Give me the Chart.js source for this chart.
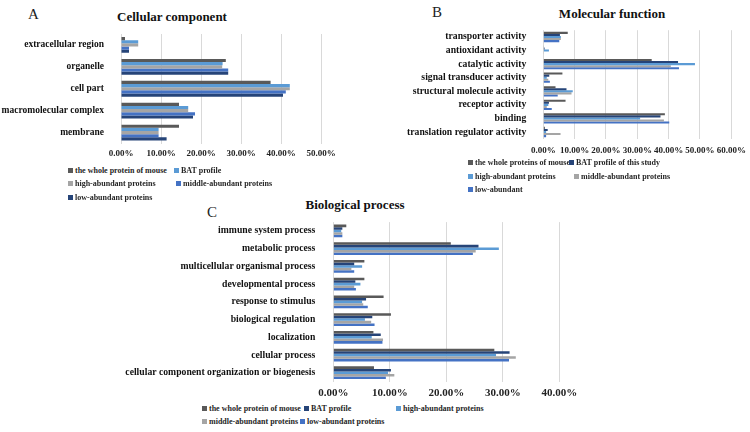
<!DOCTYPE html>
<html>
<head>
<meta charset="utf-8">
<script src="https://cdn.jsdelivr.net/npm/chart.js@4"></script>
<style>
  body { margin: 0; background: #fff; width: 750px; height: 432px; position: relative; overflow: hidden; font-family: "Liberation Serif", serif; }
  .abs { position: absolute; white-space: nowrap; line-height: 1; }
  .letter { font-size: 15px; color: #222; }
  .title { font-size: 13px; font-weight: bold; color: #111; transform: translateX(-50%); }
  .leg { font-size: 8px; font-weight: bold; color: #262626; }
  .leg i { display: inline-block; width: 5px; height: 5px; margin-right: 2px; vertical-align: 0px; }
  canvas { position: absolute; }
</style>
</head>
<body>
<div class="abs letter" style="left:28px;top:7px">A</div>
<div class="abs letter" style="left:432px;top:5px">B</div>
<div class="abs letter" style="left:207px;top:205px">C</div>
<div class="abs title" style="left:172px;top:10px">Cellular component</div>
<div class="abs title" style="left:612px;top:7px">Molecular function</div>
<div class="abs title" style="left:355px;top:198px">Biological process</div>
<canvas id="ccChart"></canvas>
<canvas id="mfChart"></canvas>
<canvas id="bpChart"></canvas>
<script>
// values in percent
const ccCategories = ['extracellular region', 'organelle', 'cell part', 'macromolecular complex', 'membrane']
const ccWhole  = [1.0, 26.2, 37.4, 14.5, 14.5]
const ccBat    = [4.3, 25.4, 42.2, 16.8, 9.4]
const ccHigh   = [4.3, 25.3, 42.2, 16.8, 9.4]
const ccMiddle = [2.0, 26.8, 41.2, 18.5, 9.4]
const ccLow    = [2.0, 26.8, 40.5, 18.0, 11.4]
const ccSeries = ['the whole protein of mouse', 'BAT profile', 'high-abundant proteins', 'middle-abundant proteins', 'low-abundant proteins']

const mfCategories = ['transporter activity', 'antioxidant activity', 'catalytic activity', 'signal transducer activity',
  'structural molecule activity', 'receptor activity', 'binding', 'translation regulator activity']
const mfWhole  = [7.8, 0.2, 34.6, 6.1, 3.9, 7.1, 38.8, 0.5]
const mfBat    = [5.3, 0.4, 43.0, 1.9, 7.4, 1.8, 37.4, 1.4]
const mfHigh   = [5.6, 1.8, 48.4, 1.1, 9.4, 1.6, 30.9, 0.9]
const mfMiddle = [5.6, 0.1, 40.7, 1.6, 9.0, 1.1, 38.5, 5.5]
const mfLow    = [5.1, 0.0, 43.3, 2.1, 4.6, 2.7, 40.2, 0.9]
const mfSeries = ['the whole proteins of mouse', 'BAT profile of this study', 'high-abundant proteins', 'middle-abundant proteins', 'low-abundant']

const bpCategories = ['immune system process', 'metabolic process', 'multicellular organismal process', 'developmental process',
  'response to stimulus', 'biological regulation', 'localization', 'cellular process', 'cellular component organization or biogenesis']
const bpWhole  = [2.3, 20.8, 5.5, 5.5, 8.9, 10.2, 7.1, 28.5, 7.2]
const bpBat    = [1.6, 25.7, 3.7, 3.9, 5.8, 6.9, 8.4, 31.2, 10.2]
const bpHigh   = [1.4, 29.3, 5.1, 4.8, 5.1, 5.6, 6.8, 28.8, 9.7]
const bpMiddle = [1.6, 25.2, 3.2, 3.7, 5.3, 6.7, 8.8, 32.3, 10.8]
const bpLow    = [1.6, 24.7, 3.7, 4.0, 6.1, 7.3, 8.7, 31.1, 9.3]
const bpSeries = ['the whole protein of mouse', 'BAT profile', 'high-abundant proteins', 'middle-abundant proteins', 'low-abundant proteins']

const darkGray = '#595959'
const lightBlue = '#5b9bd5'
const gray = '#a5a5a5'
const blue = '#4472c4'
const navy = '#264478'

const ccColors = [darkGray, lightBlue, gray, blue, navy]
const mfColors = [darkGray, navy, lightBlue, gray, blue]

const fontFamily = '"Liberation Serif", serif'

// box = canvas rect on the page, plot = wanted chart area on the page
function addChart(id, box, plot, labels, names, series, colors, opts) {
  const canvas = document.getElementById(id)
  canvas.width = box.w
  canvas.height = box.h
  canvas.style.left = box.x + 'px'
  canvas.style.top = box.y + 'px'
  const yWidth = plot.left - box.x
  const xHeight = box.y + box.h - plot.bottom

  new Chart(canvas, {
    type: 'bar',
    data: {
      labels: labels,
      datasets: series.map((d, i) => ({
        label: names[i],
        data: d,
        backgroundColor: colors[i],
        barPercentage: 1,
        categoryPercentage: opts.cat
      }))
    },
    options: {
      indexAxis: 'y',
      responsive: false,
      animation: false,
      devicePixelRatio: 1,
      layout: { padding: { top: plot.top - box.y, right: box.x + box.w - plot.right, left: 0, bottom: 0 } },
      plugins: { legend: { display: false }, tooltip: { enabled: false } },
      scales: {
        x: {
          min: 0,
          max: opts.max,
          ticks: {
            stepSize: 10, autoSkip: false, maxRotation: 0, padding: opts.xPad, color: '#222',
            font: { family: fontFamily, size: opts.xFont, weight: 'bold' },
            callback: v => v.toFixed(2) + '%'
          },
          grid: { color: '#d9d9d9', drawTicks: false },
          border: { display: false },
          afterFit: s => { s.height = xHeight }
        },
        y: {
          ticks: {
            autoSkip: false, padding: opts.yPad, color: '#111',
            font: { family: fontFamily, size: opts.yFont, weight: 'bold' }
          },
          grid: { display: false },
          border: { display: false },
          afterFit: s => { s.width = yWidth }
        }
      }
    }
  })
}

function addLegend(items) {
  for (const it of items) {
    const d = document.createElement('div')
    d.className = 'abs leg'
    d.style.left = it.x + 'px'
    d.style.top = (it.y - 4.5) + 'px'
    d.innerHTML = `<i style="background:${it.color}"></i>${it.text}`
    document.body.appendChild(d)
  }
}

addChart('ccChart', { x: 0, y: 12, w: 360, h: 152 }, { left: 121, right: 321, top: 34, bottom: 143.5 },
  ccCategories, ccSeries, [ccWhole, ccBat, ccHigh, ccMiddle, ccLow], ccColors,
  { max: 50, cat: 0.72, xFont: 9, yFont: 9.5, xPad: 5, yPad: 9 })

addChart('mfChart', { x: 370, y: 8, w: 400, h: 151 }, { left: 543.3, right: 731.3, top: 30.2, bottom: 138.8 },
  mfCategories, mfSeries, [mfWhole, mfBat, mfHigh, mfMiddle, mfLow], mfColors,
  { max: 60, cat: 0.76, xFont: 9, yFont: 9.7, xPad: 6, yPad: 9 })

addChart('bpChart', { x: 0, y: 198, w: 600, h: 204 }, { left: 333.3, right: 559.3, top: 222.1, bottom: 381.6 },
  bpCategories, bpSeries, [bpWhole, bpBat, bpHigh, bpMiddle, bpLow], mfColors,
  { max: 40, cat: 0.72, xFont: 11, yFont: 9.7, xPad: 5, yPad: 10 })

addLegend([
  { text: ccSeries[0], color: ccColors[0], x: 68, y: 171 },
  { text: ccSeries[1], color: ccColors[1], x: 174, y: 171 },
  { text: ccSeries[2], color: ccColors[2], x: 68, y: 184.5 },
  { text: ccSeries[3], color: ccColors[3], x: 176, y: 184.5 },
  { text: ccSeries[4], color: ccColors[4], x: 68, y: 198 },
  { text: mfSeries[0], color: mfColors[0], x: 468, y: 163.5 },
  { text: mfSeries[1], color: mfColors[1], x: 569, y: 163.5 },
  { text: mfSeries[2], color: mfColors[2], x: 468, y: 177 },
  { text: mfSeries[3], color: mfColors[3], x: 574, y: 177 },
  { text: mfSeries[4], color: mfColors[4], x: 468, y: 190.5 },
  { text: bpSeries[0], color: mfColors[0], x: 202, y: 409 },
  { text: bpSeries[1], color: mfColors[1], x: 304, y: 409 },
  { text: bpSeries[2], color: mfColors[2], x: 396, y: 409 },
  { text: bpSeries[3], color: mfColors[3], x: 202, y: 422.5 },
  { text: bpSeries[4], color: mfColors[4], x: 300, y: 422.5 }
])
</script>
</body>
</html>
